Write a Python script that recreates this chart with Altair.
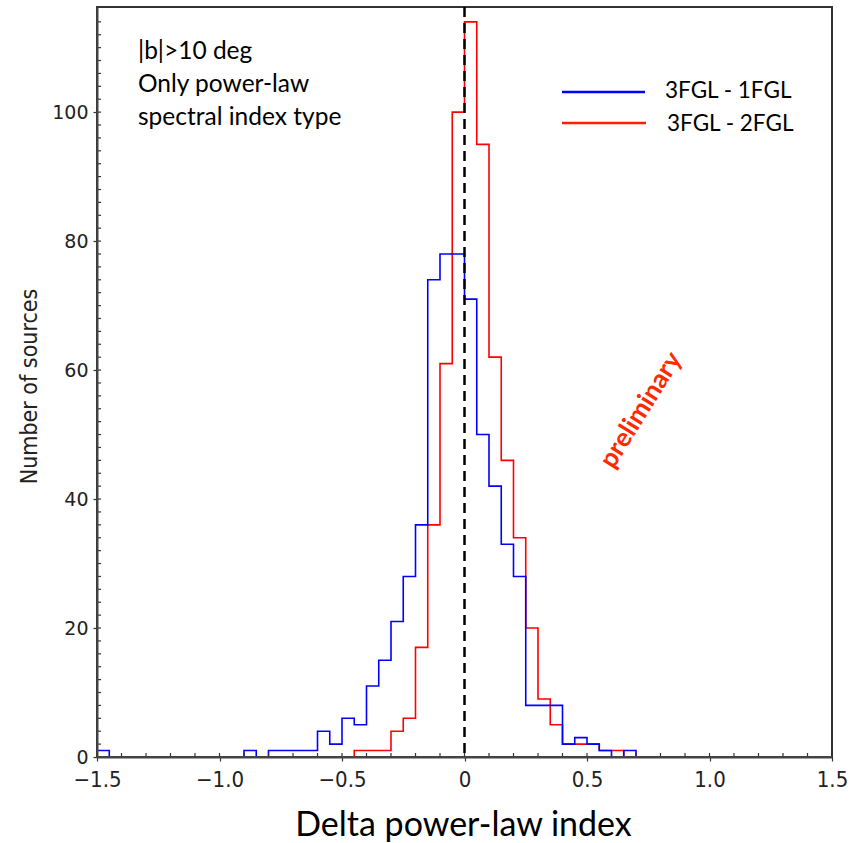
import altair as alt
import pandas as pd

# ---------------- data ----------------
bin_width = 0.05

blue_name = "3FGL - 1FGL"
blue_start = -1.50
blue_counts = [1, 0, 0, 0, 0, 0, 0, 0, 0, 0, 0, 0, 1, 0, 1, 1, 1, 1,
               4, 2, 6, 5, 11, 15, 21, 28, 36, 74, 78, 78, 71, 50, 42, 33,
               28, 8, 8, 8, 2, 3, 2, 1, 0, 1]

red_name = "3FGL - 2FGL"
red_start = -0.45
red_counts = [1, 1, 1, 4, 6, 17, 36, 61, 100, 114, 95, 62, 46, 34, 20, 9,
              5, 2, 2, 2, 1, 1]

series_names = [blue_name, red_name]
series_colors = ["#0000ff", "#ff0000"]

x_tick_labels = [-1.5, -1.0, -0.5, 0.0, 0.5, 1.0, 1.5]
y_tick_labels = [0, 20, 40, 60, 80, 100]

annotation_lines = ["|b|>10 deg", "Only power-law", "spectral index type"]
watermark = "preliminary"


def outline(name, start, counts):
    rows = [dict(series=name, x=start, y=0, k=0)]
    for i, c in enumerate(counts):
        rows.append(dict(series=name, x=round(start + i * bin_width, 4), y=c, k=i + 1))
    rows.append(dict(series=name, x=round(start + len(counts) * bin_width, 4), y=0,
                     k=len(counts) + 1))
    return pd.DataFrame(rows)


blue_df = outline(blue_name, blue_start, blue_counts)
red_df = outline(red_name, red_start, red_counts)

W, H = 735, 750
xscale = alt.Scale(domain=[-1.5, 1.5], nice=False, zero=False)
yscale = alt.Scale(domain=[0, 116.3], nice=False)
cscale = alt.Scale(domain=series_names, range=series_colors)

x_axis = alt.Axis(
    title="Delta power-law index", values=x_tick_labels,
    labelExpr="datum.value == 0 ? '0' : format(datum.value, '.1f')",
    labelFont="DejaVu Sans Condensed", labelFontSize=22, labelColor="#222",
    labelPadding=8, labelFlush=False, labelOverlap=False,
    tickSize=4, tickColor="#333", tickWidth=1.2,
    domain=True, domainColor="#444", domainWidth=2, zindex=1,
    grid=False,
    titleFont="Lato", titleFontSize=34, titleFontWeight="normal", titleColor="black",
    titleX=366, titleY=78, titleAlign="center", titleBaseline="alphabetic",
)
y_axis = alt.Axis(
    title="Number of sources", values=y_tick_labels,
    labelFont="DejaVu Sans", labelFontSize=19, labelColor="#222", labelPadding=5,
    tickSize=4, tickColor="#333", tickWidth=1.2,
    domain=True, domainColor="#444", domainWidth=2, zindex=1,
    grid=False,
    titleFont="DejaVu Sans Condensed", titleFontSize=23, titleFontWeight="normal",
    titleColor="#222", titleX=-68, titleY=379, titleAngle=270,
    titleAlign="center", titleBaseline="middle",
)

red_line = alt.Chart(red_df).mark_line(interpolate="step-after", strokeWidth=1.6).encode(
    x=alt.X("x:Q", scale=xscale, axis=x_axis),
    y=alt.Y("y:Q", scale=yscale, axis=y_axis),
    color=alt.Color("series:N", scale=cscale, legend=None),
    order="k:Q",
)
blue_line = alt.Chart(blue_df).mark_line(interpolate="step-after", strokeWidth=1.6).encode(
    x=alt.X("x:Q", scale=xscale, axis=x_axis),
    y=alt.Y("y:Q", scale=yscale, axis=y_axis),
    color=alt.Color("series:N", scale=cscale, legend=None),
    order="k:Q",
)

# inward minor ticks
xt = pd.DataFrame({"x": [round(-1.4 + 0.1 * i, 1) for i in range(29)]})
yt = pd.DataFrame({"y": list(range(2, 116, 2))})
x_ticks = alt.Chart(xt).mark_rule(color="#333", strokeWidth=1.2).encode(
    x=alt.X("x:Q", scale=xscale, axis=x_axis), y=alt.value(H), y2=alt.value(H - 4))
y_ticks = alt.Chart(yt).mark_rule(color="#333", strokeWidth=1.2).encode(
    y=alt.Y("y:Q", scale=yscale, axis=y_axis), x=alt.value(0), x2=alt.value(4))

# frame lines redrawn over the histogram outlines
one = pd.DataFrame({"t": [0]})
bottom_frame = alt.Chart(one).mark_rule(color="#444", strokeWidth=2).encode(
    x=alt.value(0), x2=alt.value(W), y=alt.value(H))
left_frame = alt.Chart(one).mark_rule(color="#333", strokeWidth=2).encode(
    x=alt.value(0), y=alt.value(0), y2=alt.value(H))

zero_df = pd.DataFrame({"x": [0.0]})
dashed = alt.Chart(zero_df).mark_rule(color="black", strokeWidth=2.5, strokeDash=[10, 6]).encode(
    x=alt.X("x:Q", scale=xscale, axis=x_axis), y=alt.value(0), y2=alt.value(H))

annot = alt.Chart(one).mark_text(
    align="left", baseline="middle", font="Lato", fontSize=24.5, lineHeight=33,
    color="black", lineBreak="\n",
).encode(x=alt.value(41), y=alt.value(45), text=alt.value("\n".join(annotation_lines)))

leg_blue_line = alt.Chart(one).mark_rule(color=series_colors[0], strokeWidth=2.5).encode(
    x=alt.value(465), x2=alt.value(548), y=alt.value(85))
leg_red_line = alt.Chart(one).mark_rule(color="#ff2200", strokeWidth=2.5).encode(
    x=alt.value(465), x2=alt.value(549), y=alt.value(116))
leg_blue_text = alt.Chart(one).mark_text(
    align="left", baseline="middle", font="Lato", fontSize=22.5, color="black"
).encode(x=alt.value(568), y=alt.value(84), text=alt.value(blue_name))
leg_red_text = alt.Chart(one).mark_text(
    align="left", baseline="middle", font="Lato", fontSize=22.5, color="black"
).encode(x=alt.value(570), y=alt.value(117), text=alt.value(red_name))

prelim = alt.Chart(one).mark_text(
    align="center", baseline="middle", font="Lato", fontSize=26, fontWeight="bold",
    color="#ff2a00", angle=302,
).encode(x=alt.value(544), y=alt.value(403), text=alt.value(watermark))

chart = alt.layer(
    red_line, blue_line, bottom_frame, left_frame, x_ticks, y_ticks, dashed, annot,
    leg_blue_line, leg_red_line, leg_blue_text, leg_red_text, prelim,
).properties(
    width=W, height=H,
    padding={"left": 97, "top": 7, "right": 31, "bottom": 86},
    autosize=alt.AutoSizeParams(type="none"),
    background="white",
).configure_view(stroke="#333", strokeWidth=2)

chart.save("out.html", embed_options={"renderer": "svg", "actions": False})
